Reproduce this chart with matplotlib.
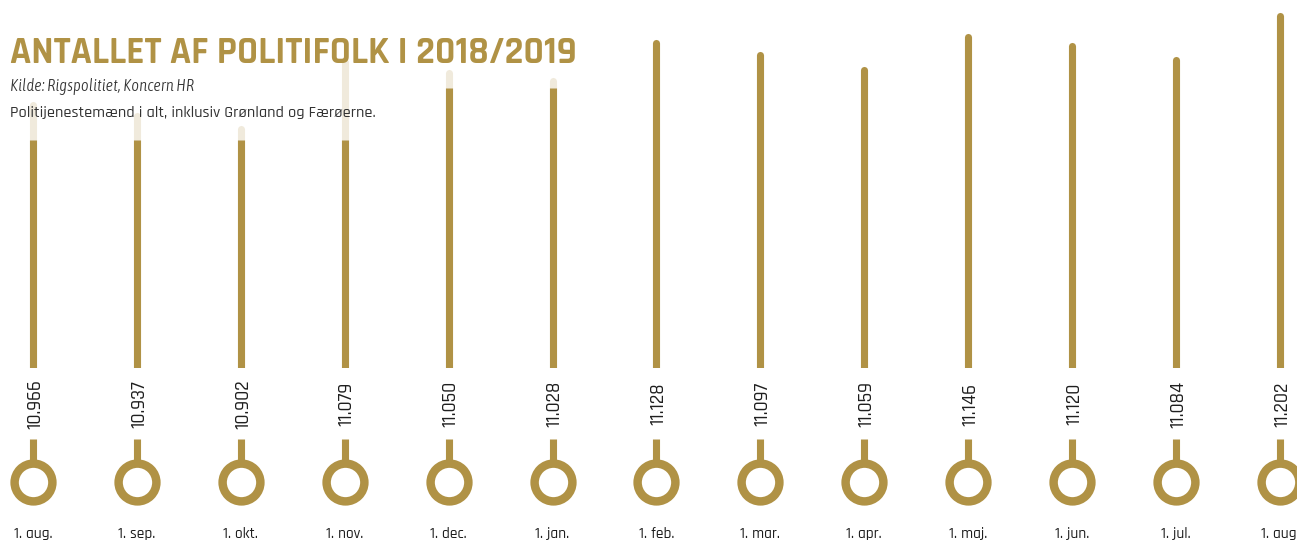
import matplotlib
matplotlib.use("Agg")
import matplotlib.pyplot as plt

months = ["1. aug.", "1. sep.", "1. okt.", "1. nov.", "1. dec.", "1. jan.", "1. feb.",
          "1. mar.", "1. apr.", "1. maj.", "1. jun.", "1. jul.", "1. aug."]
officers = [10.966, 10.937, 10.902, 11.079, 11.050, 11.028, 11.128,
            11.097, 11.059, 11.146, 11.120, 11.084, 11.202]
# gold fill level (animation captured mid-way for the first bars)
filled = [10.872, 10.872, 10.872, 10.872, 11.010, 11.010, 11.128,
          11.097, 11.059, 11.146, 11.120, 11.084, 11.202]
labels = ["10.966", "10.937", "10.902", "11.079", "11.050", "11.028", "11.128",
          "11.097", "11.059", "11.146", "11.120", "11.084", "11.202"]

GOLD = "#b09245"
BEIGE = "#f0eadc"
TEXT = "#1e1e1e"
FONT = ["Rajdhani", "DejaVu Sans"]

W, H = 1297, 543
fig = plt.figure(figsize=(W / 100, H / 100), dpi=100)
fig.patch.set_facecolor("white")

base = 10.2685
xlim = (-33 / 103.9, (W - 33) / 103.9)

ax = fig.add_axes([0, 175 / H, 1, 368 / H])
ax.set_xlim(*xlim)
ax.set_ylim(base, base + 368 / 377.6)
ax.axis("off")

x = list(range(len(months)))
for i in x:
    ax.plot([i, i], [base - 0.1, officers[i]], color=BEIGE, lw=5.1,
            solid_capstyle="round", zorder=1)
    cap = "round" if filled[i] >= officers[i] else "butt"
    ax.plot([i, i], [base - 0.1, filled[i]], color=GOLD, lw=5.1,
            solid_capstyle=cap, zorder=2)

lo = fig.add_axes([0, 0, 1, 175 / H])
lo.set_xlim(*xlim)
lo.set_ylim(175, 0)
lo.axis("off")
lo.vlines(x, 71, 92, color=GOLD, lw=5.1)
lo.scatter(x, [114] * len(x), s=740, facecolor="white", edgecolor=GOLD,
           linewidths=6.1, zorder=3)
for i in x:
    lo.text(i + 0.015, 36, labels[i], rotation=90, ha="center", va="center",
            fontsize=14, color=TEXT, family=FONT, fontweight="medium")
    lo.text(i, 165, months[i], ha="center", va="center", fontsize=11.2,
            color=TEXT, family=FONT, fontweight="medium")

fig.text(10 / W, 1 - 63 / H, "ANTALLET AF POLITIFOLK I 2018/2019", ha="left",
         va="baseline", fontsize=27.5, fontweight="bold", color=GOLD, family=FONT,
         zorder=5)
fig.text(10 / W, 1 - 91 / H, "Kilde: Rigspolitiet, Koncern HR", ha="left",
         va="baseline", fontsize=12, style="italic", color="#333333",
         family=["Asap Light", "DejaVu Sans"], zorder=5)
fig.text(10 / W, 1 - 117 / H, "Politijenestemænd i alt, inklusiv Grønland og Færøerne.",
         ha="left", va="baseline", fontsize=11.8, color="#333333", family=FONT,
         fontweight="medium", zorder=5)

fig.savefig("out.png", dpi=100, facecolor="white")
